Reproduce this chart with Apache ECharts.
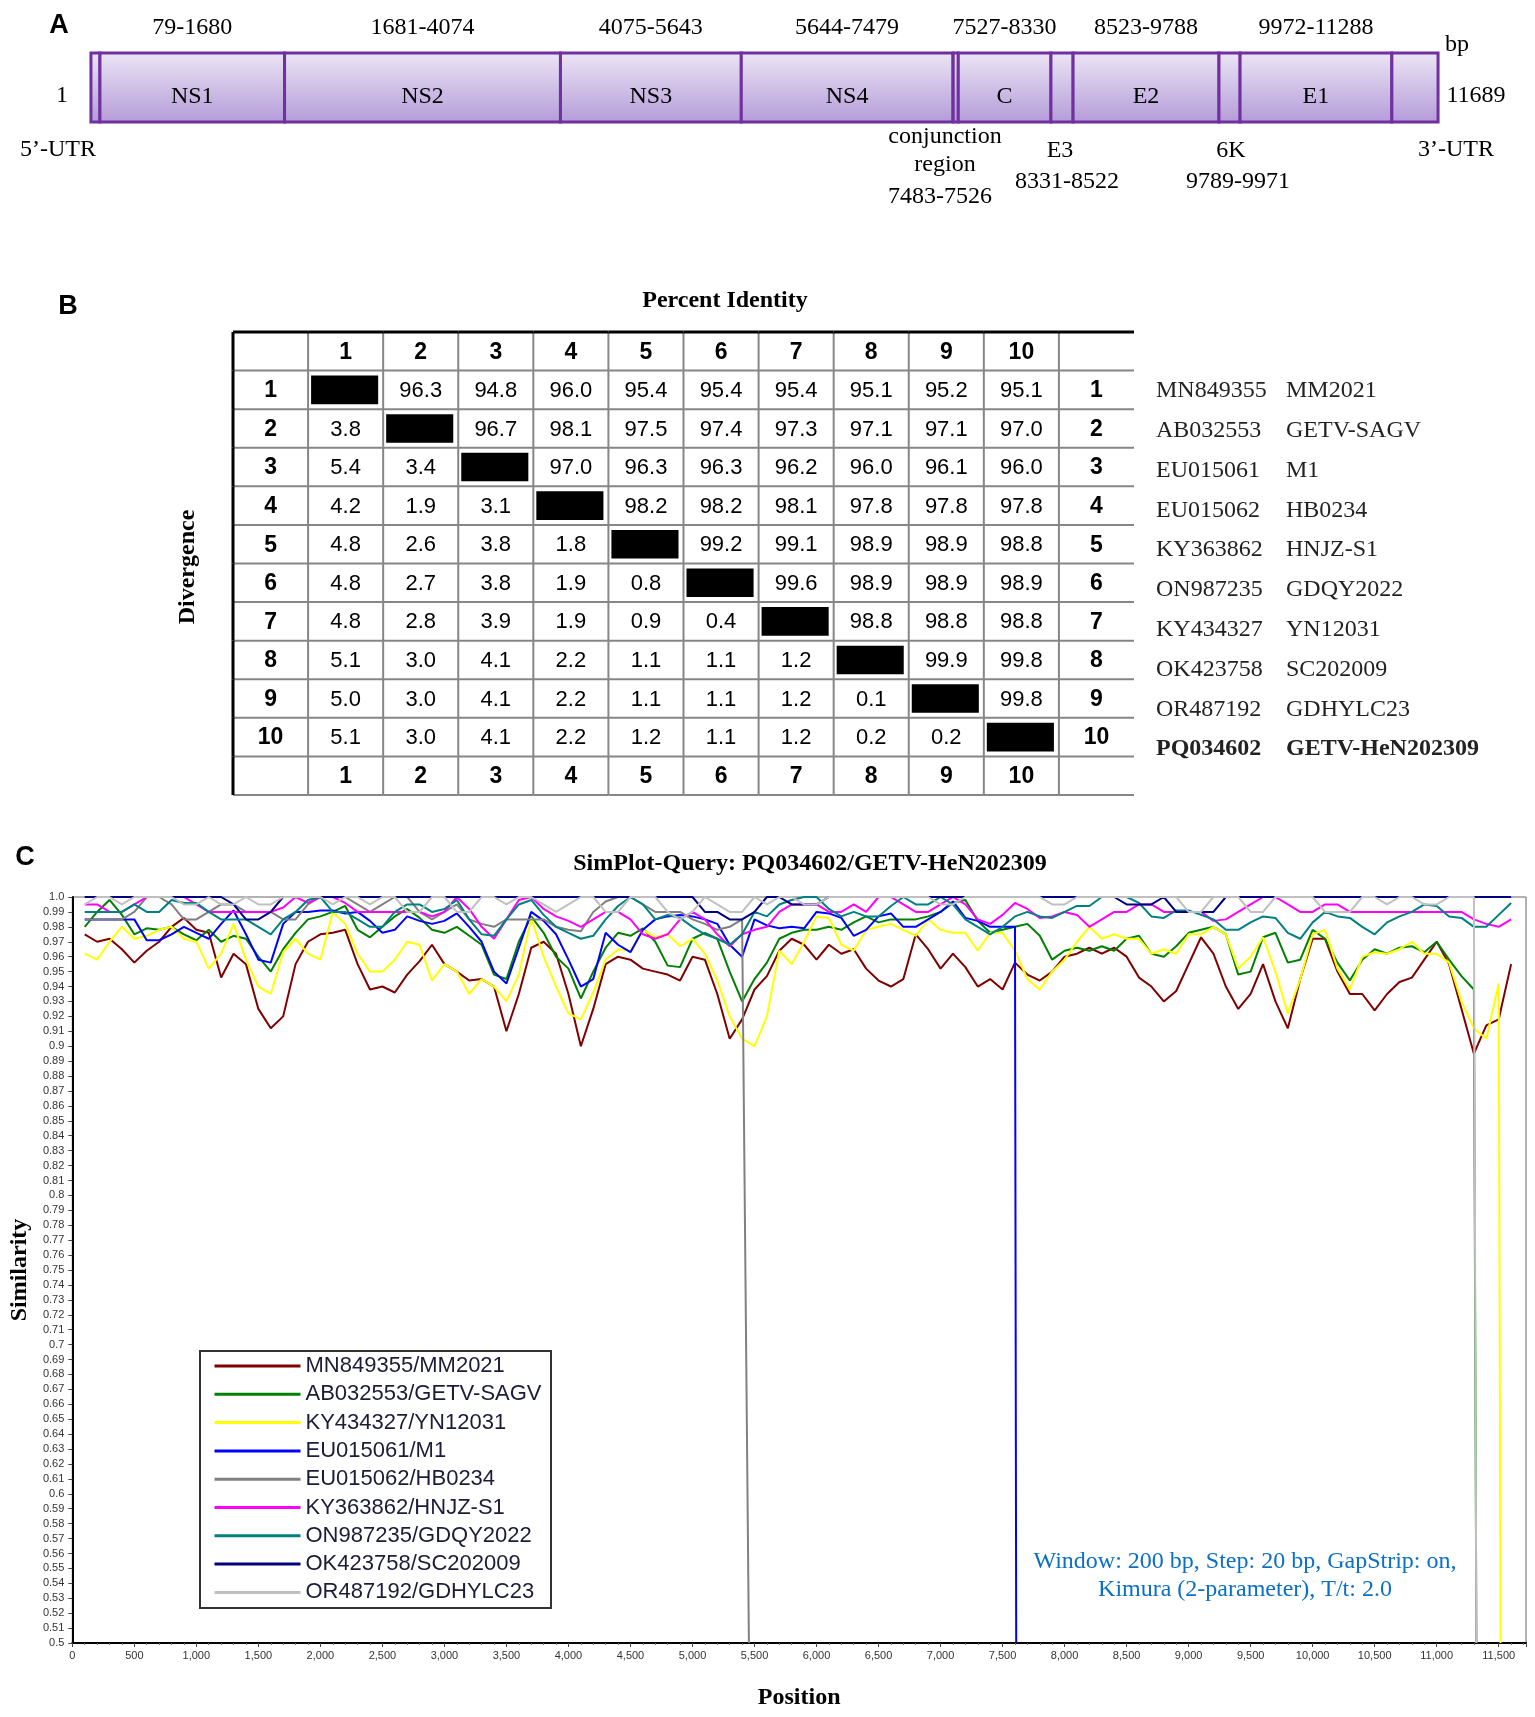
<!DOCTYPE html>
<html>
<head>
<meta charset="utf-8">
<title>GETV genome map, identity matrix and SimPlot</title>
<script src="https://cdn.jsdelivr.net/npm/echarts@6/dist/echarts.min.js"></script>
<style>
  html, body { margin: 0; padding: 0; background: #fff; }
  #chart { width: 1535px; height: 1717px; }
</style>
</head>
<body>
<div id="chart"></div>
<script>
// ---------- Panel A: genome organisation (bp) ----------
const genomeLength = 11689;
const segNames = ['', 'NS1', 'NS2', 'NS3', 'NS4', '', 'C', '', 'E2', '', 'E1', ''];
const segStart = [1, 79, 1681, 4075, 5644, 7483, 7527, 8331, 8523, 9789, 9972, 11289];
const segEnd   = [78, 1680, 4074, 5643, 7479, 7526, 8330, 8522, 9788, 9971, 11288, 11689];

// ---------- Panel B: percent identity / divergence ----------
const strainIds = ['MN849355', 'AB032553', 'EU015061', 'EU015062', 'KY363862',
                   'ON987235', 'KY434327', 'OK423758', 'OR487192', 'PQ034602'];
const strainNames = ['MM2021', 'GETV-SAGV', 'M1', 'HB0234', 'HNJZ-S1',
                     'GDQY2022', 'YN12031', 'SC202009', 'GDHYLC23', 'GETV-HeN202309'];
// upper triangle, row i holds columns i+1..10
const pctIdentity = [
  [96.3, 94.8, 96.0, 95.4, 95.4, 95.4, 95.1, 95.2, 95.1],
  [96.7, 98.1, 97.5, 97.4, 97.3, 97.1, 97.1, 97.0],
  [97.0, 96.3, 96.3, 96.2, 96.0, 96.1, 96.0],
  [98.2, 98.2, 98.1, 97.8, 97.8, 97.8],
  [99.2, 99.1, 98.9, 98.9, 98.8],
  [99.6, 98.9, 98.9, 98.9],
  [98.8, 98.8, 98.8],
  [99.9, 99.8],
  [99.8]
];
// lower triangle, row i (2..10) holds columns 1..i-1
const divergence = [
  [3.8],
  [5.4, 3.4],
  [4.2, 1.9, 3.1],
  [4.8, 2.6, 3.8, 1.8],
  [4.8, 2.7, 3.8, 1.9, 0.8],
  [4.8, 2.8, 3.9, 1.9, 0.9, 0.4],
  [5.1, 3.0, 4.1, 2.2, 1.1, 1.1, 1.2],
  [5.0, 3.0, 4.1, 2.2, 1.1, 1.1, 1.2, 0.1],
  [5.1, 3.0, 4.1, 2.2, 1.2, 1.1, 1.2, 0.2, 0.2]
];

// ---------- Panel C: SimPlot similarity ----------
const plotLength = 11720;
const positions = [
  100, 200, 300, 400, 500, 600, 700, 800, 900, 1000,
  1100, 1200, 1300, 1400, 1500, 1600, 1700, 1800, 1900, 2000,
  2100, 2200, 2300, 2400, 2500, 2600, 2700, 2800, 2900, 3000,
  3100, 3200, 3300, 3400, 3500, 3600, 3700, 3800, 3900, 4000,
  4100, 4200, 4300, 4400, 4500, 4600, 4700, 4800, 4900, 5000,
  5100, 5200, 5300, 5400, 5500, 5600, 5700, 5800, 5900, 6000,
  6100, 6200, 6300, 6400, 6500, 6600, 6700, 6800, 6900, 7000,
  7100, 7200, 7300, 7400, 7500, 7600, 7700, 7800, 7900, 8000,
  8100, 8200, 8300, 8400, 8500, 8600, 8700, 8800, 8900, 9000,
  9100, 9200, 9300, 9400, 9500, 9600, 9700, 9800, 9900, 10000,
  10100, 10200, 10300, 10400, 10500, 10600, 10700, 10800, 10900, 11000,
  11100, 11200, 11300, 11400, 11500, 11600
];
const simMM2021 = [
  0.975, 0.970, 0.972, 0.965, 0.956, 0.964, 0.970, 0.980, 0.986, 0.978,
  0.976, 0.946, 0.962, 0.955, 0.925, 0.912, 0.920, 0.955, 0.970, 0.975,
  0.976, 0.978, 0.955, 0.938, 0.940, 0.936, 0.948, 0.957, 0.968, 0.955,
  0.950, 0.944, 0.945, 0.940, 0.910, 0.935, 0.966, 0.970, 0.962, 0.935,
  0.900, 0.925, 0.955, 0.960, 0.958, 0.952, 0.950, 0.948, 0.944, 0.960,
  0.958, 0.935, 0.905, 0.918, 0.938, 0.947, 0.964, 0.972, 0.968, 0.958,
  0.968, 0.962, 0.965, 0.952, 0.944, 0.940, 0.945, 0.975, 0.965, 0.952,
  0.962, 0.953, 0.940, 0.945, 0.938, 0.956, 0.948, 0.944, 0.950, 0.960,
  0.962, 0.966, 0.962, 0.966, 0.960, 0.946, 0.940, 0.930, 0.937, 0.955,
  0.973, 0.962, 0.940, 0.925, 0.935, 0.955, 0.930, 0.912, 0.945, 0.972,
  0.972, 0.950, 0.935, 0.935, 0.924, 0.935, 0.943, 0.946, 0.958, 0.970,
  0.955, 0.925, 0.895, 0.914, 0.918, 0.955
];
const simSAGV = [
  0.980, 0.990, 0.998, 0.988, 0.975, 0.979, 0.978, 0.980, 0.975, 0.971,
  0.978, 0.970, 0.974, 0.972, 0.960, 0.950, 0.965, 0.976, 0.985, 0.987,
  0.990, 0.994, 0.978, 0.973, 0.980, 0.987, 0.992, 0.986, 0.978, 0.976,
  0.980, 0.974, 0.968, 0.948, 0.945, 0.970, 0.987, 0.976, 0.960, 0.952,
  0.932, 0.950, 0.966, 0.976, 0.974, 0.979, 0.970, 0.954, 0.953, 0.972,
  0.976, 0.972, 0.950, 0.930, 0.945, 0.956, 0.972, 0.976, 0.978, 0.978,
  0.980, 0.978, 0.983, 0.987, 0.983, 0.985, 0.985, 0.985, 0.987, 0.990,
  0.996, 0.998, 0.984, 0.976, 0.978, 0.980, 0.982, 0.974, 0.958, 0.964,
  0.966, 0.964, 0.967, 0.964, 0.972, 0.974, 0.962, 0.960, 0.967, 0.976,
  0.978, 0.980, 0.975, 0.948, 0.950, 0.973, 0.976, 0.956, 0.958, 0.978,
  0.972, 0.956, 0.944, 0.958, 0.965, 0.962, 0.966, 0.967, 0.963, 0.970,
  0.958, 0.947, 0.938
];
const simYN12031 = [
  0.962, 0.958, 0.970, 0.980, 0.972, 0.974, 0.978, 0.980, 0.972, 0.970,
  0.952, 0.962, 0.982, 0.958, 0.940, 0.935, 0.963, 0.972, 0.962, 0.958,
  0.990, 0.982, 0.962, 0.950, 0.950, 0.958, 0.970, 0.968, 0.944, 0.955,
  0.950, 0.935, 0.945, 0.940, 0.930, 0.948, 0.986, 0.960, 0.940, 0.922,
  0.918, 0.936, 0.958, 0.965, 0.964, 0.978, 0.973, 0.975, 0.967, 0.972,
  0.962, 0.944, 0.920, 0.905, 0.900, 0.920, 0.964, 0.955, 0.970, 0.987,
  0.986, 0.968, 0.964, 0.978, 0.980, 0.982, 0.978, 0.974, 0.985, 0.978,
  0.976, 0.976, 0.964, 0.976, 0.976, 0.964, 0.945, 0.938, 0.950, 0.958,
  0.970, 0.980, 0.972, 0.975, 0.972, 0.972, 0.962, 0.965, 0.962, 0.975,
  0.975, 0.980, 0.975, 0.952, 0.960, 0.973, 0.950, 0.922, 0.945, 0.975,
  0.978, 0.952, 0.938, 0.960, 0.963, 0.962, 0.965, 0.970, 0.962, 0.962,
  0.956, 0.930, 0.912, 0.905, 0.942
];
const simM1 = [
  0.985, 0.985, 0.985, 0.985, 0.985, 0.971, 0.971, 0.975, 0.980, 0.976,
  0.972, 0.982, 0.991, 0.975, 0.958, 0.956, 0.982, 0.990, 0.990, 0.991,
  0.991, 0.989, 0.990, 0.984, 0.976, 0.978, 0.987, 0.984, 0.982, 0.984,
  0.989, 0.980, 0.970, 0.950, 0.942, 0.966, 0.990, 0.984, 0.975, 0.958,
  0.940, 0.945, 0.976, 0.968, 0.963, 0.978, 0.985, 0.987, 0.988, 0.987,
  0.985, 0.982, 0.968, 0.960, 0.985, 0.981, 0.979, 0.980, 0.979, 0.990,
  0.989, 0.986, 0.974, 0.978, 0.987, 0.989, 0.980, 0.980, 0.985, 0.990,
  0.997, 0.986, 0.984, 0.980, 0.980, 0.980
];
const simHB0234 = [
  0.985, 0.985, 0.985, 0.985, 0.990, 1.000, 1.000, 0.995, 0.985, 0.985,
  0.990, 0.995, 0.995, 0.990, 0.990, 0.990, 0.985, 0.985, 0.995, 1.000,
  1.000, 1.000, 0.995, 0.990, 0.995, 1.000, 1.000, 0.990, 0.985, 0.990,
  0.995, 0.985, 0.982, 0.980, 0.985, 0.985, 0.985, 0.985, 0.980, 0.978,
  0.977, 0.990, 0.997, 1.000, 1.000, 0.995, 0.990, 0.990, 0.990, 0.985,
  0.982, 0.978, 0.980, 0.985
];
const simHNJZ = [
  0.995, 0.995, 0.990, 0.990, 0.995, 1.000, 1.000, 1.000, 1.000, 0.995,
  0.990, 0.990, 0.990, 0.990, 0.990, 0.990, 0.993, 1.000, 0.996, 1.000,
  1.000, 0.996, 0.990, 0.990, 0.990, 0.990, 0.990, 0.990, 0.987, 0.990,
  1.000, 0.992, 0.980, 0.972, 0.985, 0.998, 1.000, 0.992, 0.987, 0.984,
  0.980, 0.985, 0.990, 0.990, 0.985, 0.975, 0.972, 0.975, 0.985, 0.990,
  0.985, 0.975, 0.967, 0.975, 0.978, 0.980, 0.990, 0.995, 0.995, 0.995,
  0.990, 0.990, 0.995, 0.990, 1.000, 1.000, 0.995, 0.990, 0.990, 0.995,
  1.000, 0.995, 0.985, 0.982, 0.988, 0.996, 0.992, 0.986, 0.987, 0.990,
  0.988, 0.980, 0.985, 0.990, 0.990, 0.995, 0.995, 0.990, 0.990, 0.990,
  0.990, 0.984, 0.985, 0.990, 0.995, 1.000, 1.000, 0.995, 0.990, 0.990,
  0.995, 0.995, 0.990, 0.990, 0.990, 0.990, 0.990, 0.990, 0.990, 0.990,
  0.990, 0.990, 0.985, 0.982, 0.980, 0.985
];
const simGDQY = [
  0.990, 0.990, 0.990, 0.990, 0.995, 0.990, 0.990, 0.998, 0.996, 0.996,
  0.990, 0.985, 0.985, 0.985, 0.980, 0.975, 0.985, 0.990, 0.998, 1.000,
  0.990, 0.990, 0.985, 0.980, 0.980, 0.990, 0.995, 0.995, 0.990, 0.992,
  0.998, 0.985, 0.975, 0.974, 0.985, 0.995, 0.998, 0.988, 0.980, 0.976,
  0.972, 0.974, 0.985, 0.994, 1.000, 0.995, 0.985, 0.988, 0.986, 0.980,
  0.975, 0.972, 0.968, 0.975, 0.990, 0.987, 0.995, 0.998, 1.000, 1.000,
  0.992, 0.987, 0.990, 0.987, 0.987, 0.994, 1.000, 0.995, 0.995, 1.000,
  0.995, 0.985, 0.980, 0.975, 0.980, 0.987, 0.990, 0.987, 0.986, 0.990,
  0.994, 0.994, 1.000, 1.000, 1.000, 0.996, 0.987, 0.986, 0.991, 0.991,
  0.988, 0.985, 0.978, 0.978, 0.983, 0.987, 0.986, 0.976, 0.972, 0.983,
  0.990, 0.987, 0.986, 0.980, 0.975, 0.983, 0.987, 0.990, 0.995, 0.994,
  0.987, 0.986, 0.980, 0.980, 0.988, 0.996
];
const simSC202009 = [
  1.000, 1.000, 1.000, 1.000, 1.000, 1.000, 1.000, 1.000, 1.000, 1.000,
  1.000, 1.000, 0.995, 0.985, 0.985, 0.990, 1.000, 1.000, 1.000, 1.000,
  1.000, 1.000, 1.000, 1.000, 1.000, 1.000, 1.000, 1.000, 1.000, 1.000,
  1.000, 1.000, 1.000, 1.000, 1.000, 1.000, 1.000, 1.000, 1.000, 1.000,
  1.000, 1.000, 1.000, 1.000, 1.000, 1.000, 1.000, 1.000, 1.000, 1.000,
  0.990, 0.990, 0.985, 0.985, 0.990, 1.000, 1.000, 0.995, 0.995, 0.995,
  1.000, 1.000, 1.000, 1.000, 1.000, 1.000, 1.000, 1.000, 1.000, 1.000,
  1.000, 1.000, 1.000, 1.000, 1.000, 1.000, 1.000, 1.000, 1.000, 1.000,
  1.000, 1.000, 1.000, 1.000, 0.995, 0.995, 0.995, 1.000, 0.990, 0.990,
  0.990, 0.990, 1.000, 1.000, 1.000, 1.000, 1.000, 1.000, 1.000, 1.000,
  1.000, 1.000, 1.000, 1.000, 1.000, 1.000, 1.000, 1.000, 1.000, 1.000,
  1.000, 1.000, 1.000, 1.000, 1.000, 1.000
];
const simGDHYLC23 = [
  0.995, 1.000, 1.000, 0.995, 1.000, 1.000, 1.000, 1.000, 0.995, 0.995,
  1.000, 0.995, 0.995, 1.000, 0.995, 0.995, 1.000, 1.000, 1.000, 1.000,
  0.995, 1.000, 1.000, 0.995, 1.000, 1.000, 0.990, 0.990, 1.000, 1.000,
  0.990, 0.990, 1.000, 1.000, 0.995, 1.000, 1.000, 0.995, 0.990, 0.995,
  1.000, 1.000, 0.990, 0.990, 1.000, 1.000, 1.000, 0.990, 0.985, 0.990,
  1.000, 0.995, 0.990, 0.990, 1.000, 0.995, 1.000, 1.000, 0.995, 0.995,
  1.000, 1.000, 1.000, 1.000, 1.000, 1.000, 1.000, 1.000, 1.000, 0.995,
  0.995, 1.000, 1.000, 1.000, 1.000, 1.000, 1.000, 1.000, 0.995, 0.995,
  1.000, 1.000, 1.000, 1.000, 1.000, 1.000, 1.000, 1.000, 1.000, 0.990,
  0.990, 1.000, 1.000, 1.000, 0.990, 0.990, 1.000, 1.000, 1.000, 1.000,
  0.990, 0.990, 0.990, 1.000, 1.000, 0.995, 1.000, 1.000, 0.995, 0.995,
  1.000, 1.000, 1.000
];
const simNames = ['MN849355/MM2021', 'AB032553/GETV-SAGV', 'KY434327/YN12031', 'EU015061/M1',
                  'EU015062/HB0234', 'KY363862/HNJZ-S1', 'ON987235/GDQY2022', 'OK423758/SC202009',
                  'OR487192/GDHYLC23'];
const simValues = [simMM2021, simSAGV, simYN12031, simM1, simHB0234, simHNJZ, simGDQY, simSC202009, simGDHYLC23];
// position where the curve falls off the bottom of the plot (sequence ends)
const simDropAt = [null, 11320, 11515, 7610, 5455, null, null, null, 11320];

// ---------- styling ----------
const simColors = ['#800000', '#008000', '#ffff00', '#0000ff', '#808080', '#ff00ff', '#008080', '#000080', '#c0c0c0'];
const SERIF = '"Liberation Serif", "Times New Roman", serif';
const SANS = '"Liberation Sans", Arial, sans-serif';

const chart = echarts.init(document.getElementById('chart'), null, { renderer: 'canvas' });

function txt(text, x, y, font, opts) {
  opts = opts || {};
  return {
    type: 'text', x: x, y: y, rotation: opts.rotation || 0, silent: true,
    style: {
      text: text, font: font, fill: opts.color || '#000',
      textAlign: opts.align || 'center', textVerticalAlign: 'middle',
      align: opts.align || 'center', verticalAlign: 'middle'
    }
  };
}

const boxGradient = new echarts.graphic.LinearGradient(0, 0, 0, 1, [
  { offset: 0, color: '#ece6f5' },
  { offset: 1, color: '#b39bd8' }
]);

// table cell content
function cellText(r, c) {
  if (r === 0 || r === 11) return (c >= 1 && c <= 10) ? { t: String(c), bold: true } : null;
  if (c === 0 || c === 11) return { t: String(r), bold: true };
  if (c === r) return { black: true };
  if (c > r) return { t: pctIdentity[r - 1][c - r - 1].toFixed(1) };
  return { t: divergence[r - 2][c - 1].toFixed(1) };
}

const tableCells = [];
for (let r = 0; r < 12; r++) for (let c = 0; c < 12; c++) tableCells.push([c, r]);

const simSeries = simNames.map(function (name, k) {
  const data = simValues[k].map(function (v, i) { return [positions[i], v]; });
  if (simDropAt[k]) data.push([simDropAt[k], 0.5]);
  return {
    name: name, type: 'line', xAxisIndex: 2, yAxisIndex: 2,
    data: data, symbol: 'none', showSymbol: false,
    lineStyle: { color: simColors[k], width: 2 }, itemStyle: { color: simColors[k] },
    z: 3
  };
});

const A_FONT = '24px ' + SERIF;
// graphic texts
const graphics = [
  // panel A
  txt('A', 59, 26, 'bold 27px ' + SANS),
  txt('1', 62, 96, A_FONT),
  txt('11689', 1476, 96, A_FONT),
  txt('bp', 1457, 45, A_FONT),
  txt('5\u2019-UTR', 58, 150, A_FONT),
  txt('3\u2019-UTR', 1456, 150, A_FONT),
  txt('conjunction', 945, 137, A_FONT),
  txt('region', 945, 165, A_FONT),
  txt('7483-7526', 940, 197, A_FONT),
  txt('E3', 1060, 151, A_FONT),
  txt('8331-8522', 1067, 182, A_FONT),
  txt('6K', 1231, 151, A_FONT),
  txt('9789-9971', 1238, 182, A_FONT),
  // panel B
  txt('B', 68, 307, 'bold 27px ' + SANS),
  txt('Percent Identity', 725, 301, 'bold 24px ' + SERIF),
  txt('Divergence', 188, 567, 'bold 24px ' + SERIF, { rotation: Math.PI / 2 }),
  // panel C
  txt('C', 25, 858, 'bold 27px ' + SANS),
  txt('SimPlot-Query: PQ034602/GETV-HeN202309', 810, 864, 'bold 24px ' + SERIF),
  txt('Window: 200 bp, Step: 20 bp, GapStrip: on,', 1245, 1562, '24px ' + SERIF, { color: '#0a6fc6' }),
  txt('Kimura (2-parameter), T/t: 2.0', 1245, 1590, '24px ' + SERIF, { color: '#0a6fc6' }),
  {
    type: 'rect', silent: true, z: 10,
    shape: { x: 200, y: 1351, width: 351, height: 257 },
    style: { fill: 'none', stroke: '#333', lineWidth: 2 }
  }
];
strainIds.forEach(function (id, i) {
  const bold = i === strainIds.length - 1 ? 'bold ' : '';
  const y = 391 + i * 39.8;
  graphics.push(txt(id, 1156, y, bold + '24px ' + SERIF, { align: 'left', color: '#222' }));
  graphics.push(txt(strainNames[i], 1286, y, bold + '24px ' + SERIF, { align: 'left', color: '#222' }));
});

const option = {
  animation: false,
  backgroundColor: '#fff',
  grid: [
    { left: 91, top: 53, width: 1347, height: 69 },
    { left: 233, top: 332, width: 901, height: 463 },
    { left: 71, top: 897, width: 1455, height: 746, show: true, borderColor: '#666', borderWidth: 1 }
  ],
  xAxis: [
    { gridIndex: 0, type: 'value', min: 1, max: genomeLength, show: false },
    { gridIndex: 1, type: 'category', data: ['', '1', '2', '3', '4', '5', '6', '7', '8', '9', '10', ''], show: false },
    {
      gridIndex: 2, type: 'value', min: 0, max: plotLength, interval: 500,
      name: 'Position', nameLocation: 'middle', nameGap: 43,
      nameTextStyle: { fontFamily: SERIF, fontWeight: 'bold', fontSize: 24, color: '#000' },
      axisLine: { show: true, onZero: false, lineStyle: { color: '#000', width: 2 } },
      axisTick: { show: true, length: 4, lineStyle: { color: '#444' } },
      minorTick: { show: true, splitNumber: 5, length: 2, lineStyle: { color: '#666' } },
      axisLabel: {
        fontFamily: SANS, fontSize: 11, color: '#333', margin: 7, showMaxLabel: false,
        formatter: function (v) { return Math.round(v).toLocaleString('en-US'); }
      },
      splitLine: { show: false }, minorSplitLine: { show: false }
    }
  ],
  yAxis: [
    { gridIndex: 0, type: 'value', min: 0, max: 1, show: false },
    { gridIndex: 1, type: 'category', data: ['', '1', '2', '3', '4', '5', '6', '7', '8', '9', '10', ''], inverse: true, show: false },
    {
      gridIndex: 2, type: 'value', min: 0.5, max: 1.0, interval: 0.01,
      name: 'Similarity', nameLocation: 'middle', nameGap: 40,
      nameTextStyle: { fontFamily: SERIF, fontWeight: 'bold', fontSize: 24, color: '#000' },
      axisLine: { show: true, onZero: false, lineStyle: { color: '#000', width: 2 } },
      axisTick: { show: true, length: 4, lineStyle: { color: '#444' } },
      axisLabel: {
        fontFamily: SANS, fontSize: 11, color: '#333', margin: 8,
        formatter: function (v) { return Math.abs(v - 1) < 1e-9 ? '1.0' : String(Math.round(v * 100) / 100); }
      },
      splitLine: { show: false }
    }
  ],
  legend: {
    data: simNames, orient: 'vertical', left: 213, top: 1355, padding: 0,
    itemWidth: 86, itemHeight: 22, itemGap: 6.3, selectedMode: false,
    itemStyle: { opacity: 0 },
    lineStyle: { width: 3 },
    textStyle: { fontFamily: SANS, fontSize: 22, lineHeight: 22, color: '#1c1c38' }
  },
  graphic: graphics,
  series: [
    {
      // genome map segments
      type: 'custom', xAxisIndex: 0, yAxisIndex: 0, silent: true,
      data: segStart.map(function (s, i) { return [s, segEnd[i], 0.5, i]; }),
      encode: { x: [0, 1], y: 2 },
      renderItem: function (params, api) {
        const i = api.value(3);
        const p0 = api.coord([api.value(0) - 0.5, 1]);
        const p1 = api.coord([api.value(1) + 0.5, 0]);
        const w = p1[0] - p0[0], h = p1[1] - p0[1];
        const cx = p0[0] + w / 2;
        const children = [{
          type: 'rect', shape: { x: p0[0], y: p0[1], width: w, height: h },
          style: { fill: boxGradient, stroke: '#7030a0', lineWidth: 3 }
        }];
        if (segNames[i]) {
          children.push(txt(segNames[i], cx, p0[1] + 44, A_FONT));
          children.push(txt(segStart[i] + '-' + segEnd[i], cx, p0[1] - 25, A_FONT));
        }
        return { type: 'group', children: children };
      }
    },
    {
      // identity / divergence table
      type: 'custom', xAxisIndex: 1, yAxisIndex: 1, silent: true,
      data: tableCells,
      renderItem: function (params, api) {
        const c = api.value(0), r = api.value(1);
        const ctr = api.coord([c, r]);
        const sz = api.size([1, 1]);
        const x0 = ctr[0] - sz[0] / 2, y0 = ctr[1] - sz[1] / 2;
        const children = [];
        children.push({
          type: 'line', z2: r === 0 ? 5 : 1,
          shape: { x1: x0, y1: y0, x2: x0 + sz[0], y2: y0 },
          style: { stroke: r === 0 ? '#000' : '#868686', lineWidth: r === 0 ? 3 : 2 }
        });
        children.push({
          type: 'line', z2: c === 0 ? 5 : 1,
          shape: { x1: x0, y1: y0, x2: x0, y2: y0 + sz[1] },
          style: { stroke: c === 0 ? '#000' : '#868686', lineWidth: c === 0 ? 3 : 2 }
        });
        if (r === 11) {
          children.push({
            type: 'line', shape: { x1: x0, y1: y0 + sz[1], x2: x0 + sz[0], y2: y0 + sz[1] },
            style: { stroke: '#868686', lineWidth: 2 }
          });
        }
        const cell = cellText(r, c);
        if (cell && cell.black) {
          children.push({
            type: 'rect', shape: { x: x0 + 3, y: y0 + 5, width: sz[0] - 8, height: sz[1] - 10 },
            style: { fill: '#000' }
          });
        } else if (cell && cell.bold) {
          children.push(txt(cell.t, ctr[0], ctr[1] + 1, 'bold 23px ' + SANS));
        } else if (cell) {
          children.push(txt(cell.t, ctr[0], ctr[1] + 1, '22px ' + SANS));
        }
        return { type: 'group', children: children };
      }
    }
  ].concat(simSeries)
};

chart.setOption(option);
</script>
</body>
</html>
